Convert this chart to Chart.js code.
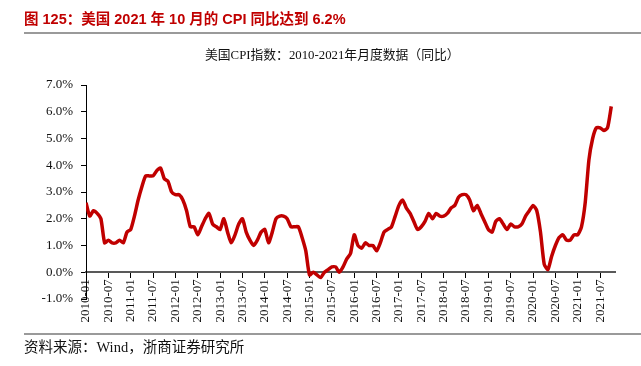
<!DOCTYPE html>
<html>
<head>
<meta charset="utf-8">
<script src="https://cdn.jsdelivr.net/npm/chart.js@4.4.0/dist/chart.umd.min.js"></script>
<style>
  html, body { margin: 0; padding: 0; background: #fff; }
  #wrap { position: relative; width: 641px; height: 366px; overflow: hidden; }
  #c { position: absolute; left: 0; top: 0; }
  .t { position: absolute; white-space: nowrap; }
  #title { left: 24px; top: 9px; font: bold 14.5px "Liberation Sans", "Noto Sans CJK SC", sans-serif; color: #C00000; line-height: 20px; }
  #sub { left: 205px; top: 47px; font: 12.8px "Liberation Serif", "Noto Sans CJK SC", serif; color: #111; line-height: 16px; }
  #src { left: 24px; top: 339px; font: 14.5px "Liberation Serif", "Noto Sans CJK SC", serif; color: #111; line-height: 17px; }
  .hr { position: absolute; left: 24px; right: 0; height: 2px; background: #9a9a9a; }
</style>
</head>
<body>
<div id="wrap">
  <canvas id="c" width="641" height="366"></canvas>
  <div class="t" id="title">图 125：美国 2021 年 10 月的 CPI 同比达到 6.2%</div>
  <div class="hr" style="top:32px"></div>
  <div class="t" id="sub">美国CPI指数：2010-2021年月度数据（同比）</div>
  <div class="hr" style="top:333px"></div>
  <div class="t" id="src">资料来源：Wind，浙商证券研究所</div>
</div>
<script>
// Years covered and month labels
const years = [2010, 2011, 2012, 2013, 2014, 2015, 2016, 2017, 2018, 2019, 2020, 2021];
const months = ['01','02','03','04','05','06','07','08','09','10','11','12'];

// US CPI YoY (%) by year, Jan..Dec
const cpi2010 = [2.6, 2.1, 2.3, 2.2, 2.0, 1.1, 1.2, 1.1, 1.1, 1.2, 1.1, 1.5];
const cpi2011 = [1.6, 2.1, 2.7, 3.2, 3.6, 3.6, 3.6, 3.8, 3.9, 3.5, 3.4, 3.0];
const cpi2012 = [2.9, 2.9, 2.7, 2.3, 1.7, 1.7, 1.4, 1.7, 2.0, 2.2, 1.8, 1.7];
const cpi2013 = [1.6, 2.0, 1.5, 1.1, 1.4, 1.8, 2.0, 1.5, 1.2, 1.0, 1.2, 1.5];
const cpi2014 = [1.6, 1.1, 1.5, 2.0, 2.1, 2.1, 2.0, 1.7, 1.7, 1.7, 1.3, 0.8];
const cpi2015 = [-0.1, 0.0, -0.1, -0.2, 0.0, 0.1, 0.2, 0.2, 0.0, 0.2, 0.5, 0.7];
const cpi2016 = [1.4, 1.0, 0.9, 1.1, 1.0, 1.0, 0.8, 1.1, 1.5, 1.6, 1.7, 2.1];
const cpi2017 = [2.5, 2.7, 2.4, 2.2, 1.9, 1.6, 1.7, 1.9, 2.2, 2.0, 2.2, 2.1];
const cpi2018 = [2.1, 2.2, 2.4, 2.5, 2.8, 2.9, 2.9, 2.7, 2.3, 2.5, 2.2, 1.9];
const cpi2019 = [1.6, 1.5, 1.9, 2.0, 1.8, 1.6, 1.8, 1.7, 1.7, 1.8, 2.1, 2.3];
const cpi2020 = [2.5, 2.3, 1.5, 0.3, 0.1, 0.6, 1.0, 1.3, 1.4, 1.2, 1.2, 1.4];
const cpi2021 = [1.4, 1.7, 2.6, 4.2, 5.0, 5.4, 5.4, 5.3, 5.4, 6.2];

const cpiValues = [].concat(cpi2010, cpi2011, cpi2012, cpi2013, cpi2014, cpi2015,
  cpi2016, cpi2017, cpi2018, cpi2019, cpi2020, cpi2021);

const categories = [];
years.forEach(y => months.forEach(m => categories.push(y + '-' + m)));

// Y axis tick values
const yTicks = [-1, 0, 1, 2, 3, 4, 5, 6, 7];

const serif = '"Liberation Serif", "Times New Roman", serif';

new Chart(document.getElementById('c'), {
  type: 'line',
  data: {
    datasets: [{
      data: cpiValues.map((v, i) => ({ x: i, y: v })),
      borderColor: '#C00000',
      borderWidth: 3.5,
      pointRadius: 0,
      tension: 0.2,
      fill: false
    }]
  },
  options: {
    responsive: false,
    animation: false,
    devicePixelRatio: 1,
    layout: { padding: { left: 0, top: 85, right: 26, bottom: 67 } },
    plugins: { legend: { display: false }, tooltip: { enabled: false } },
    scales: {
      x: {
        type: 'linear',
        min: 0,
        max: 142,
        position: { y: 0 },
        border: { display: true, color: '#595959', width: 2 },
        grid: { drawOnChartArea: false, drawTicks: true, tickLength: 5, tickColor: '#000', tickWidth: 1 },
        ticks: {
          stepSize: 6,
          includeBounds: false,
          autoSkip: false,
          minRotation: 90,
          maxRotation: 90,
          padding: 2,
          color: '#111',
          font: { family: serif, size: 13 },
          callback: (v) => categories[v] || ''
        },
        afterFit: (s) => { s.paddingLeft = 0; s.paddingRight = 0; }
      },
      y: {
        min: yTicks[0],
        max: yTicks[yTicks.length - 1],
        border: { display: true, color: '#000', width: 1 },
        grid: { drawOnChartArea: false, drawTicks: true, tickLength: 5, tickColor: '#000' },
        afterBuildTicks: (s) => { s.ticks = yTicks.map(v => ({ value: v })); },
        ticks: {
          padding: 8,
          color: '#111',
          font: { family: serif, size: 13 },
          callback: (v) => v.toFixed(1) + '%'
        },
        afterFit: (s) => { s.width = 86; s.paddingTop = 0; s.paddingBottom = 0; }
      }
    }
  }
});
</script>
</body>
</html>
